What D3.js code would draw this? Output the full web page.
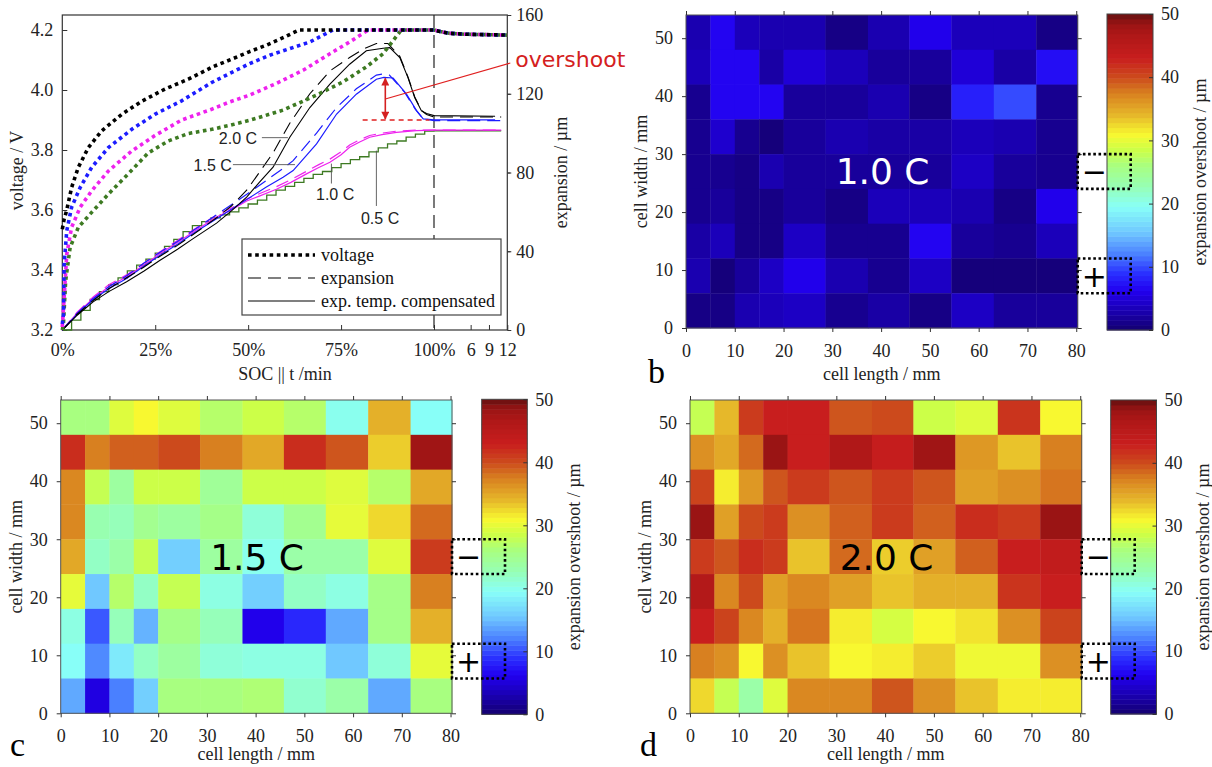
<!DOCTYPE html>
<html><head><meta charset="utf-8">
<script src="https://cdn.jsdelivr.net/npm/d3@7"></script>
<style>body{margin:0;background:#fff}</style>
</head><body>
<svg id="fig" width="1212" height="767" xmlns="http://www.w3.org/2000/svg"></svg>
<script>
// ---------------- DATA ----------------
const voltTicks = [3.2, 3.4, 3.6, 3.8, 4.0, 4.2];
const expTicks = [0, 40, 80, 120, 160];
const socTickVals = [0, 25, 50, 75, 100, 106, 109, 112];   // >100 = 100 + minutes of rest
const socTickLabels = ["0%", "25%", "50%", "75%", "100%", "6", "9", "12"];

// voltage vs SOC (dotted)
const voltage20 = [[0,3.536],[0.5,3.57],[1.2,3.60],[2.5,3.675],[4.3,3.742],[7,3.808],[10.6,3.864],[16,3.919],[21.3,3.962],[27.6,4.003],[33.9,4.036],[40.6,4.078],[46,4.105],[50.4,4.128],[55,4.15],[60,4.178],[63.7,4.2],[100,4.2]];
const voltage15 = [[0,3.22],[0.3,3.25],[0.5,3.42],[1.2,3.531],[2.5,3.609],[4.8,3.675],[7.9,3.742],[12.4,3.808],[18.7,3.869],[24.9,3.919],[32.1,3.964],[40.2,4.025],[45,4.055],[50.4,4.088],[55.8,4.116],[61.2,4.138],[66.6,4.16],[72.8,4.2],[100,4.2]];
const voltage10 = [[0,3.21],[0.5,3.309],[1.2,3.453],[2.5,3.542],[4.8,3.609],[7.9,3.664],[12.4,3.73],[18.7,3.797],[24.9,3.848],[32.1,3.9],[40.2,3.936],[45,3.96],[50.4,3.983],[57.6,4.022],[64.8,4.066],[72,4.121],[77.3,4.16],[82.3,4.2],[100,4.2]];
const voltage05 = [[0,3.2],[0.3,3.22],[0.9,3.364],[2.1,3.475],[4.3,3.542],[7.9,3.592],[12.4,3.653],[17.7,3.72],[23.1,3.79],[28.5,3.83],[33.9,3.855],[40.2,3.869],[45,3.882],[50.4,3.899],[59.4,3.933],[68.4,3.983],[75.5,4.027],[81.8,4.077],[86.3,4.121],[91.2,4.2],[100,4.2]];
const voltageRest = [[101,4.195],[102.5,4.189],[105,4.186],[112,4.183]];

// expansion vs SOC, raw (dashed) and temperature compensated (solid), in µm
const expansion20 = [[0,0],[4,8],[8.3,15],[12.5,21],[17.3,26.5],[22,32],[26.3,37.5],[31,43],[35.2,48.5],[41.5,57],[45.5,63],[49.6,71],[53,80],[56.7,90],[61.2,105],[66.6,120],[72,131.6],[77.3,138.4],[80.9,142.6],[84.5,145.5],[87.6,145.5],[90.8,139],[93,128.5],[94.8,118.5],[96.6,111.5],[98,109.5],[100,108.2],[111,108.2]];
const expansion20Comp = [[0,0],[4,7.5],[8.3,14.3],[12.5,19.5],[17.3,24.5],[22,30],[26.3,35.4],[31,41],[35.2,46.4],[41.5,54.3],[45.5,60.5],[49.6,67.5],[53,75],[56.7,82.7],[61.2,97.9],[66.6,113],[72,124.9],[77.3,135],[81.8,141.8],[86.3,143.1],[88.1,143.4],[90.8,138.4],[93,128.2],[94.8,118.1],[96.6,111.4],[98,110],[100,108.9],[110,108.6]];
const expansion15 = [[0,0],[4,8.5],[8.3,16],[12.5,22],[17.3,27.5],[22,34],[26.3,39.5],[31,45],[35.2,50.5],[41.5,58.5],[47.8,66.5],[54.9,76],[59.4,82],[62.1,86],[68.4,100],[73.8,113],[79.1,122.5],[84.5,129.5],[86,130],[88,129.5],[92,121],[95,112],[97,107.5],[100,106.3],[111,106.3]];
const expansion15Comp = [[0,0],[4,8],[8.3,15.5],[12.5,21],[17.3,26.2],[22,32.5],[26.3,38],[31,43.5],[35.2,49],[41.5,56.5],[47.8,64.1],[54.9,72.6],[59.4,77.6],[62.1,81],[68.4,94.5],[73.8,109.7],[79.1,119.8],[84.5,127.4],[86.5,128.3],[89,128],[92.6,119.8],[95.3,111.4],[97.1,107.2],[100,106.7],[110,106.7]];
const expansion10 = [[0,0],[4,9],[8.3,16.8],[12.5,23],[17.3,28],[22,34],[26.3,39.8],[31,45.5],[35.2,50.8],[41.5,58.4],[45.5,62],[49.6,66.5],[53,69.2],[57.6,72.8],[61.5,76.3],[65.7,80.6],[69,84],[72,86.8],[75,90.5],[77.3,94],[80,96.6],[82.7,98.8],[86,100],[89.9,101],[95.3,101.6],[100,101.6],[111,101.6]];
const expansion10Comp = [[0,0],[4,8.5],[8.3,16],[12.5,22],[17.3,27],[22,33],[26.3,38.8],[31,44.5],[35.2,49.8],[41.5,57.4],[45.5,61],[49.6,65.5],[53,68],[57.6,71.5],[61.5,75],[65.7,79.3],[69,82.5],[72,85.2],[75,89],[77.3,92.8],[80,95.5],[82.7,97.9],[86,99.2],[89.9,100.4],[95.3,101.3],[100,101.5],[111,101.5]];
const expansion05Comp = [[0,0],[2.5,5],[5,10],[7.5,15.5],[10,19.5],[12.5,23],[15,26.5],[17.5,30],[20,33],[22.5,36],[25,39],[27.5,42.5],[30,46],[32.5,50],[35,53],[37.5,55],[40,57],[42.5,58.5],[45,60],[47.5,62],[50,64],[52.5,66],[55,68.5],[57.5,71],[60,73],[62.5,75],[65,77],[67.5,79],[70,80.5],[72.5,82.5],[75,84.5],[77.5,86.5],[80,88],[82.5,90.5],[85,92.5],[87.5,94.5],[90,96],[92.5,98],[95,99.5],[97.5,101],[100,101.2],[111,101.2]];

// heat maps: expansion overshoot / µm, rows top (48-54 mm) to bottom (0-6 mm), 11 columns
const cellXEdges = [0,5,10,15,20,28.6,37.3,45.8,54.4,63.1,71.8,80.3];
const cellYEdges = [54,48,42,36,30,24,18,12,6,0];
const mmTicksX = [0,10,20,30,40,50,60,70,80];
const mmTicksY = [0,10,20,30,40,50];
const barTicks = [0,10,20,30,40,50];

const overshoot10 = [
 [3,6.5,3.5,3,3,1,3,6,3.5,3.5,1],
 [3.5,6.5,6.5,2.5,5,3.5,2,2,5,2.5,7],
 [1.5,6.5,6.5,6.5,2,2,3,1,8,10,1.5],
 [1.5,4.5,1.5,0.5,2,3,2.5,2.5,3.5,3,1.5],
 [1.5,1.5,1,3,2,2,2,2,4,2,1.5],
 [1.5,2,1,1,2,1,3.5,3.5,3,1,6],
 [2.5,3.5,1,1,4,1.5,1.5,6.5,2,1.5,3.5],
 [3,0.5,2,4,6,3,1.5,4,0.5,0.5,0.5],
 [1,1,3,3.5,4,1.5,2.5,1,4,2,2]];
const overshoot15 = [
 [26,26,29.5,31,29.5,27,28.5,27,20,34.5,19.5],
 [42,37.5,39,39,40,37.5,35,42,39.5,33,48],
 [37,28,24,28.5,28.5,24.5,28.5,28.5,29.5,27,35],
 [37,23,22.5,25,24,25.5,21,25,30,32.5,38.5],
 [35,22,23.5,28,16,24,20,23.5,23.5,29.5,41],
 [30,15.5,27,22,28,20.5,16,22,20.5,25.5,37.5],
 [20.5,10.5,22.5,14.5,25.5,22.5,6,8.5,14,25.5,34.5],
 [19.5,12.5,18,22,24,21,20.5,20.5,15.5,21,30],
 [14,5.5,12,16,26,26,26.5,21.5,23.5,14,26]];
const overshoot20 = [
 [28,34,41,43,43,39.5,40,28.5,29.5,41.5,31],
 [36.5,35,38.5,48.5,43,46.5,43.5,48,36,33.5,37.5],
 [40.5,31.5,36,39.5,41,39.5,41,39.5,35.5,36.5,38],
 [48.5,35.5,40,41,36.5,39,41,39,42,41,48.5],
 [41,39.5,42,41,33.5,38.5,33,35.5,39,43,44],
 [46,37,40,35.5,37,35.5,33.5,34.5,34.5,41.5,43],
 [43,40.5,37,34.5,38,31.5,29,31,32,36.5,40.5],
 [37.5,36.5,31,36.5,33.5,31,31.5,33,30.5,30.5,36.5],
 [32.5,28,23.5,29.5,37,37,39.5,36.5,33.5,31.5,31.5]];

// colour map (jet-like as printed)
const cmapVals = [0,3,6.25,9,12,15.5,19.5,23,26,28.5,31,34,37.5,40,43,46.5,48.5,50];
const cmapCols = ["#140070","#1a00b0","#2200f0","#2a30ff","#4a80ff","#70c8ff","#88fff8","#98ffb0","#a8ff80","#ccff48","#f8f830","#e6b82a","#d88020","#cc4a1c","#c81e1e","#b01818","#9a1414","#641010"];

// ---------------- DRAW ----------------
const SERIF = "'Liberation Serif','Times New Roman',serif";
const SANS = "'Liberation Sans',Arial,sans-serif";
const DEJAVU = "'DejaVu Sans',Verdana,sans-serif";
const svg = d3.select("#fig");
const defs = svg.append("defs");
defs.append("marker").attr("id","redArrow").attr("viewBox","0 0 10 10").attr("refX",9).attr("refY",5)
  .attr("markerUnits","userSpaceOnUse").attr("markerWidth",9).attr("markerHeight",8).attr("orient","auto-start-reverse")
  .append("path").attr("d","M0,0 L10,5 L0,10 z").attr("fill","#d42020");

function styleAxis(g){
  g.attr("font-family",SERIF).attr("font-size",18);
  g.select(".domain").remove();
  g.selectAll(".tick line").attr("stroke","#333");
  g.selectAll(".tick text").attr("fill","#222");
}

// ===== Panel a =====
const A = {l:62.3, r:507.3, t:15, b:330};
const x = d3.scaleLinear().domain([0,100,112]).range([A.l,434,A.r]);
const yV = d3.scaleLinear().domain([3.2,4.25]).range([A.b,A.t]);
const yE = d3.scaleLinear().domain([0,160]).range([A.b,A.t]);
const gA = svg.append("g");

gA.append("g").attr("transform",`translate(${A.l},0)`)
  .call(d3.axisLeft(yV).tickValues(voltTicks).tickFormat(d3.format(".1f")).tickSizeInner(-5).tickSizeOuter(0).tickPadding(9))
  .call(styleAxis);
gA.append("g").attr("transform",`translate(${A.r},0)`)
  .call(d3.axisRight(yE).tickValues(expTicks).tickSizeInner(4).tickSizeOuter(0).tickPadding(5))
  .call(styleAxis);
gA.append("g").attr("transform",`translate(${A.r},0)`)
  .call(d3.axisLeft(yE).tickValues(expTicks.slice(1,4)).tickSizeInner(-3).tickSizeOuter(0).tickFormat(""))
  .call(styleAxis);
gA.append("g").attr("transform",`translate(0,${A.b})`)
  .call(d3.axisBottom(x).tickValues(socTickVals).tickFormat((d,i)=>socTickLabels[i]).tickSizeInner(-5).tickSizeOuter(0).tickPadding(13))
  .call(styleAxis);

gA.append("rect").attr("x",A.l).attr("y",A.t).attr("width",A.r-A.l).attr("height",A.b-A.t)
  .attr("fill","none").attr("stroke","#333").attr("stroke-width",1.2);

// 100% divider
gA.append("line").attr("x1",x(100)).attr("x2",x(100)).attr("y1",A.t).attr("y2",A.b)
  .attr("stroke","#222").attr("stroke-width",1.2).attr("stroke-dasharray","13,7");

const lineV = d3.line().x(d=>x(d[0])).y(d=>yV(d[1]));
const lineE = d3.line().x(d=>x(d[0])).y(d=>yE(d[1]));
const lineEStep = d3.line().x(d=>x(d[0])).y(d=>yE(d[1])).curve(d3.curveStepAfter);

const cBlack="#000000", cBlue="#1c1cff", cMag="#ee22ee", cGreen="#3d7a22";

// expansion curves
const expSeries = [
  {d:expansion05Comp, c:cGreen, dash:null, gen:lineEStep, w:1.3},
  {d:expansion10Comp, c:cMag, dash:null, gen:lineE, w:1.2},
  {d:expansion10, c:cMag, dash:"13,7", gen:lineE, w:1.2},
  {d:expansion15Comp, c:cBlue, dash:null, gen:lineE, w:1.2},
  {d:expansion15, c:cBlue, dash:"13,7", gen:lineE, w:1.2},
  {d:expansion20Comp, c:cBlack, dash:null, gen:lineE, w:1.1},
  {d:expansion20, c:cBlack, dash:"13,7", gen:lineE, w:1.1}
];
expSeries.forEach(s=>{
  gA.append("path").attr("d",s.gen(s.d)).attr("fill","none").attr("stroke",s.c)
    .attr("stroke-width",s.w).attr("stroke-dasharray",s.dash);
});

// voltage curves
[[voltage05,cGreen],[voltage10,cMag],[voltage15,cBlue],[voltage20,cBlack]].forEach(([d,c])=>{
  gA.append("path").attr("d",lineV(d.concat(voltageRest))).attr("fill","none").attr("stroke",c)
    .attr("stroke-width",3.6).attr("stroke-dasharray","3.6,3.6");
});

// overshoot marker
const peak15 = d3.max(expansion15Comp, d=>d[1]);
const end15 = expansion15Comp[expansion15Comp.length-1][1];
const peakX = 86.9;
gA.append("line").attr("x1",x(80.8)).attr("x2",x(98.8)).attr("y1",yE(end15)).attr("y2",yE(end15))
  .attr("stroke","#e02020").attr("stroke-width",1.5).attr("stroke-dasharray","5,4");
gA.append("line").attr("x1",x(peakX)).attr("x2",x(peakX)).attr("y1",yE(peak15)+1).attr("y2",yE(end15)-1)
  .attr("stroke","#d42020").attr("stroke-width",1.6)
  .attr("marker-start","url(#redArrow)").attr("marker-end","url(#redArrow)");
gA.append("line").attr("x1",x(peakX)).attr("y1",yE(117.3)).attr("x2",x(112)+3).attr("y2",yE(135.6))
  .attr("stroke","#e02020").attr("stroke-width",1.1);
svg.append("text").attr("x",x(112)+8).attr("y",yE(133.7)).text("overshoot")
  .attr("font-family",DEJAVU).attr("font-size",22).attr("fill","#d42020");

// rate annotations
const annG = gA.append("g").attr("font-family",SANS).attr("font-size",16).attr("fill","#222");
const ann = (x1,y1,x2,y2)=>gA.append("line").attr("x1",x(x1)).attr("y1",yE(y1)).attr("x2",x(x2)).attr("y2",yE(y2)).attr("stroke","#555").attr("stroke-width",0.9);
ann(53.7,97.7,60.7,97.7);
annG.append("text").attr("x",x(52.4)).attr("y",yE(94.4)).attr("text-anchor","end").text("2.0 C");
ann(45.9,84,62.6,84);
annG.append("text").attr("x",x(45.6)).attr("y",yE(80.8)).attr("text-anchor","end").text("1.5 C");
ann(72.4,84.5,72.4,74.4);
annG.append("text").attr("x",x(73.4)).attr("y",yE(65.8)).attr("text-anchor","middle").text("1.0 C");
ann(84.5,91.1,84.5,63);
annG.append("text").attr("x",x(85.5)).attr("y",yE(53.7)).attr("text-anchor","middle").text("0.5 C");

// legend
const L = {x:242, y:239, w:259, h:76};
const lg = gA.append("g");
lg.append("rect").attr("x",L.x).attr("y",L.y).attr("width",L.w).attr("height",L.h).attr("fill","#fff").attr("stroke","#444").attr("stroke-width",1.2);
const legItems = [["voltage",3.6,"3.6,3.6"],["expansion",1.2,"13,7"],["exp. temp. compensated",1.2,null]];
legItems.forEach((it,i)=>{
  const yy = L.y + 16 + i*23;
  lg.append("line").attr("x1",L.x+6).attr("x2",L.x+73).attr("y1",yy).attr("y2",yy).attr("stroke","#000")
    .attr("stroke-width",it[1]).attr("stroke-dasharray",it[2]);
  lg.append("text").attr("x",L.x+79).attr("y",yy).attr("dy","0.33em").text(it[0])
    .attr("font-family",SERIF).attr("font-size",18).attr("fill","#111");
});

// axis titles a
svg.append("text").attr("transform",`translate(17,${(A.t+A.b)/2-2}) rotate(-90)`).attr("dy","0.33em")
  .attr("text-anchor","middle").attr("font-family",SERIF).attr("font-size",18).attr("fill","#222").text("voltage / V");
svg.append("text").attr("transform",`translate(561,${(A.t+A.b)/2}) rotate(-90)`).attr("dy","0.33em")
  .attr("text-anchor","middle").attr("font-family",SERIF).attr("font-size",18).attr("fill","#222").text("expansion / µm");
svg.append("text").attr("x",285).attr("y",380).attr("text-anchor","middle").attr("font-family",SERIF)
  .attr("font-size",18).attr("fill","#222").text("SOC || t /min");

// ===== Heat maps =====
const colorScale = d3.scaleLinear().domain(cmapVals).range(cmapCols).interpolate(d3.interpolateRgb).clamp(true);

function heatPanel(data, P, CB, label, labelColor, letter, letterPos){
  const g = svg.append("g");
  const xs = d3.scaleLinear().domain([0,80.3]).range([P.l,P.r]);
  const ys = d3.scaleLinear().domain([0,54]).range([P.b,P.t]);
  data.forEach((row,i)=>{
    row.forEach((v,j)=>{
      g.append("rect").attr("x",xs(cellXEdges[j])).attr("y",ys(cellYEdges[i]))
        .attr("width",xs(cellXEdges[j+1])-xs(cellXEdges[j])+0.4)
        .attr("height",ys(cellYEdges[i+1])-ys(cellYEdges[i])+0.4)
        .attr("fill",colorScale(v));
    });
  });
  g.append("rect").attr("x",P.l).attr("y",P.t).attr("width",P.r-P.l).attr("height",P.b-P.t)
    .attr("fill","none").attr("stroke","#555").attr("stroke-width",1);
  g.append("g").attr("transform",`translate(0,${P.b})`)
    .call(d3.axisBottom(xs).tickValues(mmTicksX).tickSizeInner(4).tickSizeOuter(0).tickPadding(12)).call(styleAxis);
  g.append("g").attr("transform",`translate(0,${P.t})`)
    .call(d3.axisTop(xs).tickValues(mmTicksX).tickSizeInner(4).tickSizeOuter(0).tickFormat("")).call(styleAxis);
  g.append("g").attr("transform",`translate(${P.l},0)`)
    .call(d3.axisLeft(ys).tickValues(mmTicksY).tickSizeInner(4).tickSizeOuter(0).tickPadding(9)).call(styleAxis);
  g.append("g").attr("transform",`translate(${P.r},0)`)
    .call(d3.axisRight(ys).tickValues(mmTicksY).tickSizeInner(4).tickSizeOuter(0).tickFormat("")).call(styleAxis);
  g.append("text").attr("x",(P.l+P.r)/2).attr("y",Math.min(P.b+52,760)).attr("text-anchor","middle")
    .attr("font-family",SERIF).attr("font-size",18).attr("fill","#222").text("cell length / mm");
  g.append("text").attr("transform",`translate(${P.l-45},${(P.t+P.b)/2}) rotate(-90)`).attr("dy","0.33em")
    .attr("text-anchor","middle").attr("font-family",SERIF).attr("font-size",18).attr("fill","#222").text("cell width / mm");
  g.append("text").attr("x",xs(40.3)).attr("y",ys(27)).attr("dy","0.36em").attr("text-anchor","middle")
    .attr("font-family",DEJAVU).attr("font-size",36).attr("fill",labelColor).text(label);

  // colour bar
  const yc = d3.scaleLinear().domain([0,50]).range([CB.b,CB.t]);
  const bands = d3.range(64);
  g.append("g").selectAll("rect").data(bands).join("rect")
    .attr("x",CB.l).attr("width",CB.r-CB.l)
    .attr("y",k=>yc((k+1)*50/64)).attr("height",k=>yc(k*50/64)-yc((k+1)*50/64)+0.5)
    .attr("fill",k=>colorScale((k+0.5)*50/64));
  g.append("rect").attr("x",CB.l).attr("y",CB.t).attr("width",CB.r-CB.l).attr("height",CB.b-CB.t)
    .attr("fill","none").attr("stroke","#444").attr("stroke-width",1);
  g.append("g").attr("transform",`translate(${CB.r},0)`)
    .call(d3.axisLeft(yc).tickValues(barTicks).tickSizeInner(4).tickSizeOuter(0).tickFormat("")).call(styleAxis);
  g.append("g").attr("transform",`translate(${CB.r},0)`)
    .call(d3.axisRight(yc).tickValues(barTicks).tickSizeInner(0).tickSizeOuter(0).tickPadding(8)).call(styleAxis);
  g.append("text").attr("transform",`translate(${CB.r+47},${(CB.t+CB.b)/2}) rotate(-90)`).attr("dy","0.33em")
    .attr("text-anchor","middle").attr("font-family",SERIF).attr("font-size",18).attr("fill","#222")
    .text("expansion overshoot / µm");

  // tab markers
  [[24,30,"\u2212"],[6,12,"+"]].forEach(([lo,hi,s])=>{
    g.append("rect").attr("x",P.r).attr("y",ys(hi)).attr("width",53).attr("height",ys(lo)-ys(hi))
      .attr("fill","none").attr("stroke","#000").attr("stroke-width",2.6).attr("stroke-dasharray","2.6,2.6");
    g.append("text").attr("x",P.r+16.5).attr("y",(ys(lo)+ys(hi))/2).attr("dy","0.36em").attr("text-anchor","middle")
      .attr("font-family",DEJAVU).attr("font-size",30).attr("fill","#000").text(s);
  });

  svg.append("text").attr("x",letterPos[0]).attr("y",letterPos[1]).attr("font-family",SERIF)
    .attr("font-size",34).attr("fill","#000").text(letter);
}

heatPanel(overshoot10, {l:686,r:1077.7,t:15,b:328}, {l:1107,r:1153,t:14,b:330}, "1.0 C", "#ffffff", "b", [648,383]);
heatPanel(overshoot15, {l:60.7,r:452,t:400,b:713.3}, {l:481.7,r:527.3,t:399.3,b:714.3}, "1.5 C", "#000000", "c", [10,756]);
heatPanel(overshoot20, {l:690,r:1081.7,t:400,b:713.3}, {l:1110.7,r:1156.5,t:400,b:714}, "2.0 C", "#000000", "d", [640,756]);
</script>
</body></html>
